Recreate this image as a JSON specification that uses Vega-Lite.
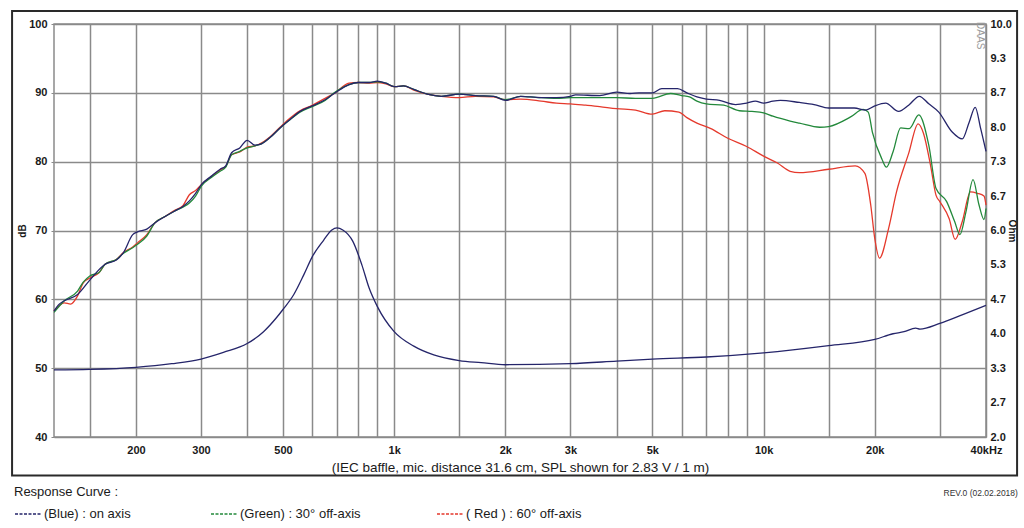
{
  "$schema": "https://vega.github.io/schema/vega-lite/v6.json",
  "width": 932,
  "height": 413,
  "autosize": {"type": "none"},
  "padding": {"left": 54, "top": 24, "right": 38, "bottom": 91},
  "background": "#FFFFFF",
  "datasets": {
    "spl": [
      {"c": "( Red ) : 60° off-axis", "f": 120, "db": 58.3},
      {"c": "( Red ) : 60° off-axis", "f": 128, "db": 59.5},
      {"c": "( Red ) : 60° off-axis", "f": 133, "db": 59.3},
      {"c": "( Red ) : 60° off-axis", "f": 139, "db": 60.5},
      {"c": "( Red ) : 60° off-axis", "f": 144, "db": 62.4},
      {"c": "( Red ) : 60° off-axis", "f": 150, "db": 63.1},
      {"c": "( Red ) : 60° off-axis", "f": 159, "db": 63.9},
      {"c": "( Red ) : 60° off-axis", "f": 165, "db": 65.1},
      {"c": "( Red ) : 60° off-axis", "f": 177, "db": 65.8},
      {"c": "( Red ) : 60° off-axis", "f": 185, "db": 66.8},
      {"c": "( Red ) : 60° off-axis", "f": 196, "db": 67.6},
      {"c": "( Red ) : 60° off-axis", "f": 202, "db": 68.2},
      {"c": "( Red ) : 60° off-axis", "f": 214, "db": 69.4},
      {"c": "( Red ) : 60° off-axis", "f": 225, "db": 71.1},
      {"c": "( Red ) : 60° off-axis", "f": 241, "db": 72.1},
      {"c": "( Red ) : 60° off-axis", "f": 254, "db": 72.9},
      {"c": "( Red ) : 60° off-axis", "f": 268, "db": 73.6},
      {"c": "( Red ) : 60° off-axis", "f": 279, "db": 75.2},
      {"c": "( Red ) : 60° off-axis", "f": 290, "db": 75.8},
      {"c": "( Red ) : 60° off-axis", "f": 301, "db": 76.7},
      {"c": "( Red ) : 60° off-axis", "f": 320, "db": 77.8},
      {"c": "( Red ) : 60° off-axis", "f": 338, "db": 78.8},
      {"c": "( Red ) : 60° off-axis", "f": 350, "db": 79.3},
      {"c": "( Red ) : 60° off-axis", "f": 363, "db": 81.0},
      {"c": "( Red ) : 60° off-axis", "f": 382, "db": 81.4},
      {"c": "( Red ) : 60° off-axis", "f": 400, "db": 82.1},
      {"c": "( Red ) : 60° off-axis", "f": 420, "db": 82.3},
      {"c": "( Red ) : 60° off-axis", "f": 433, "db": 82.6},
      {"c": "( Red ) : 60° off-axis", "f": 461, "db": 83.6},
      {"c": "( Red ) : 60° off-axis", "f": 491, "db": 85.0},
      {"c": "( Red ) : 60° off-axis", "f": 522, "db": 86.3},
      {"c": "( Red ) : 60° off-axis", "f": 556, "db": 87.4},
      {"c": "( Red ) : 60° off-axis", "f": 600, "db": 88.2},
      {"c": "( Red ) : 60° off-axis", "f": 650, "db": 89.2},
      {"c": "( Red ) : 60° off-axis", "f": 688, "db": 89.9},
      {"c": "( Red ) : 60° off-axis", "f": 755, "db": 91.4},
      {"c": "( Red ) : 60° off-axis", "f": 800, "db": 91.5},
      {"c": "( Red ) : 60° off-axis", "f": 856, "db": 91.4},
      {"c": "( Red ) : 60° off-axis", "f": 900, "db": 91.5},
      {"c": "( Red ) : 60° off-axis", "f": 950, "db": 91.3},
      {"c": "( Red ) : 60° off-axis", "f": 1000, "db": 90.9},
      {"c": "( Red ) : 60° off-axis", "f": 1060, "db": 91.0},
      {"c": "( Red ) : 60° off-axis", "f": 1130, "db": 90.4},
      {"c": "( Red ) : 60° off-axis", "f": 1230, "db": 89.8},
      {"c": "( Red ) : 60° off-axis", "f": 1340, "db": 89.5},
      {"c": "( Red ) : 60° off-axis", "f": 1500, "db": 89.3},
      {"c": "( Red ) : 60° off-axis", "f": 1660, "db": 89.5},
      {"c": "( Red ) : 60° off-axis", "f": 1860, "db": 89.4},
      {"c": "( Red ) : 60° off-axis", "f": 2000, "db": 89.0},
      {"c": "( Red ) : 60° off-axis", "f": 2200, "db": 89.1},
      {"c": "( Red ) : 60° off-axis", "f": 2500, "db": 88.8},
      {"c": "( Red ) : 60° off-axis", "f": 2750, "db": 88.5},
      {"c": "( Red ) : 60° off-axis", "f": 3000, "db": 88.4},
      {"c": "( Red ) : 60° off-axis", "f": 3300, "db": 88.2},
      {"c": "( Red ) : 60° off-axis", "f": 3600, "db": 88.0},
      {"c": "( Red ) : 60° off-axis", "f": 4000, "db": 87.7},
      {"c": "( Red ) : 60° off-axis", "f": 4500, "db": 87.5},
      {"c": "( Red ) : 60° off-axis", "f": 5000, "db": 86.9},
      {"c": "( Red ) : 60° off-axis", "f": 5400, "db": 87.4},
      {"c": "( Red ) : 60° off-axis", "f": 5900, "db": 87.2},
      {"c": "( Red ) : 60° off-axis", "f": 6200, "db": 86.4},
      {"c": "( Red ) : 60° off-axis", "f": 6600, "db": 85.6},
      {"c": "( Red ) : 60° off-axis", "f": 7200, "db": 84.8},
      {"c": "( Red ) : 60° off-axis", "f": 8000, "db": 83.4},
      {"c": "( Red ) : 60° off-axis", "f": 9000, "db": 82.2},
      {"c": "( Red ) : 60° off-axis", "f": 10000, "db": 80.8},
      {"c": "( Red ) : 60° off-axis", "f": 10900, "db": 79.8},
      {"c": "( Red ) : 60° off-axis", "f": 11800, "db": 78.6},
      {"c": "( Red ) : 60° off-axis", "f": 12500, "db": 78.4},
      {"c": "( Red ) : 60° off-axis", "f": 15000, "db": 78.9},
      {"c": "( Red ) : 60° off-axis", "f": 17700, "db": 79.4},
      {"c": "( Red ) : 60° off-axis", "f": 18800, "db": 78.3},
      {"c": "( Red ) : 60° off-axis", "f": 19500, "db": 73.7},
      {"c": "( Red ) : 60° off-axis", "f": 20000, "db": 68.8},
      {"c": "( Red ) : 60° off-axis", "f": 20600, "db": 66.0},
      {"c": "( Red ) : 60° off-axis", "f": 21800, "db": 70.3},
      {"c": "( Red ) : 60° off-axis", "f": 22900, "db": 75.6},
      {"c": "( Red ) : 60° off-axis", "f": 24700, "db": 81.2},
      {"c": "( Red ) : 60° off-axis", "f": 26200, "db": 85.5},
      {"c": "( Red ) : 60° off-axis", "f": 27100, "db": 84.1},
      {"c": "( Red ) : 60° off-axis", "f": 28300, "db": 79.5},
      {"c": "( Red ) : 60° off-axis", "f": 29300, "db": 75.1},
      {"c": "( Red ) : 60° off-axis", "f": 30000, "db": 74.2},
      {"c": "( Red ) : 60° off-axis", "f": 31800, "db": 71.7},
      {"c": "( Red ) : 60° off-axis", "f": 33000, "db": 68.7},
      {"c": "( Red ) : 60° off-axis", "f": 34500, "db": 71.3},
      {"c": "( Red ) : 60° off-axis", "f": 36300, "db": 75.6},
      {"c": "( Red ) : 60° off-axis", "f": 37900, "db": 75.4},
      {"c": "( Red ) : 60° off-axis", "f": 39500, "db": 75.0},
      {"c": "( Red ) : 60° off-axis", "f": 40000, "db": 73.7},

      {"c": "(Green) : 30° off-axis", "f": 120, "db": 58.1},
      {"c": "(Green) : 30° off-axis", "f": 128, "db": 59.8},
      {"c": "(Green) : 30° off-axis", "f": 139, "db": 61.2},
      {"c": "(Green) : 30° off-axis", "f": 144, "db": 62.5},
      {"c": "(Green) : 30° off-axis", "f": 150, "db": 63.4},
      {"c": "(Green) : 30° off-axis", "f": 159, "db": 63.9},
      {"c": "(Green) : 30° off-axis", "f": 165, "db": 65.1},
      {"c": "(Green) : 30° off-axis", "f": 177, "db": 65.8},
      {"c": "(Green) : 30° off-axis", "f": 185, "db": 66.7},
      {"c": "(Green) : 30° off-axis", "f": 196, "db": 67.5},
      {"c": "(Green) : 30° off-axis", "f": 202, "db": 68.0},
      {"c": "(Green) : 30° off-axis", "f": 214, "db": 69.2},
      {"c": "(Green) : 30° off-axis", "f": 225, "db": 71.1},
      {"c": "(Green) : 30° off-axis", "f": 241, "db": 72.1},
      {"c": "(Green) : 30° off-axis", "f": 254, "db": 72.8},
      {"c": "(Green) : 30° off-axis", "f": 268, "db": 73.4},
      {"c": "(Green) : 30° off-axis", "f": 279, "db": 74.0},
      {"c": "(Green) : 30° off-axis", "f": 290, "db": 75.0},
      {"c": "(Green) : 30° off-axis", "f": 301, "db": 76.5},
      {"c": "(Green) : 30° off-axis", "f": 320, "db": 77.7},
      {"c": "(Green) : 30° off-axis", "f": 338, "db": 78.6},
      {"c": "(Green) : 30° off-axis", "f": 350, "db": 79.2},
      {"c": "(Green) : 30° off-axis", "f": 363, "db": 81.0},
      {"c": "(Green) : 30° off-axis", "f": 382, "db": 81.5},
      {"c": "(Green) : 30° off-axis", "f": 400, "db": 82.0},
      {"c": "(Green) : 30° off-axis", "f": 420, "db": 82.3},
      {"c": "(Green) : 30° off-axis", "f": 433, "db": 82.5},
      {"c": "(Green) : 30° off-axis", "f": 461, "db": 83.5},
      {"c": "(Green) : 30° off-axis", "f": 491, "db": 84.9},
      {"c": "(Green) : 30° off-axis", "f": 522, "db": 86.1},
      {"c": "(Green) : 30° off-axis", "f": 556, "db": 87.2},
      {"c": "(Green) : 30° off-axis", "f": 600, "db": 88.0},
      {"c": "(Green) : 30° off-axis", "f": 650, "db": 88.9},
      {"c": "(Green) : 30° off-axis", "f": 688, "db": 90.0},
      {"c": "(Green) : 30° off-axis", "f": 755, "db": 91.2},
      {"c": "(Green) : 30° off-axis", "f": 800, "db": 91.5},
      {"c": "(Green) : 30° off-axis", "f": 856, "db": 91.5},
      {"c": "(Green) : 30° off-axis", "f": 900, "db": 91.6},
      {"c": "(Green) : 30° off-axis", "f": 950, "db": 91.4},
      {"c": "(Green) : 30° off-axis", "f": 1000, "db": 90.9},
      {"c": "(Green) : 30° off-axis", "f": 1060, "db": 91.0},
      {"c": "(Green) : 30° off-axis", "f": 1130, "db": 90.5},
      {"c": "(Green) : 30° off-axis", "f": 1230, "db": 89.8},
      {"c": "(Green) : 30° off-axis", "f": 1340, "db": 89.5},
      {"c": "(Green) : 30° off-axis", "f": 1500, "db": 89.8},
      {"c": "(Green) : 30° off-axis", "f": 1660, "db": 89.6},
      {"c": "(Green) : 30° off-axis", "f": 1860, "db": 89.5},
      {"c": "(Green) : 30° off-axis", "f": 2000, "db": 89.0},
      {"c": "(Green) : 30° off-axis", "f": 2200, "db": 89.5},
      {"c": "(Green) : 30° off-axis", "f": 2500, "db": 89.3},
      {"c": "(Green) : 30° off-axis", "f": 2750, "db": 89.2},
      {"c": "(Green) : 30° off-axis", "f": 3000, "db": 89.3},
      {"c": "(Green) : 30° off-axis", "f": 3600, "db": 89.3},
      {"c": "(Green) : 30° off-axis", "f": 4000, "db": 89.3},
      {"c": "(Green) : 30° off-axis", "f": 4500, "db": 89.2},
      {"c": "(Green) : 30° off-axis", "f": 5000, "db": 89.2},
      {"c": "(Green) : 30° off-axis", "f": 5600, "db": 89.9},
      {"c": "(Green) : 30° off-axis", "f": 6000, "db": 89.6},
      {"c": "(Green) : 30° off-axis", "f": 6300, "db": 89.4},
      {"c": "(Green) : 30° off-axis", "f": 6600, "db": 88.8},
      {"c": "(Green) : 30° off-axis", "f": 7000, "db": 88.4},
      {"c": "(Green) : 30° off-axis", "f": 7800, "db": 88.2},
      {"c": "(Green) : 30° off-axis", "f": 8600, "db": 87.4},
      {"c": "(Green) : 30° off-axis", "f": 9300, "db": 87.3},
      {"c": "(Green) : 30° off-axis", "f": 10000, "db": 87.1},
      {"c": "(Green) : 30° off-axis", "f": 10600, "db": 86.6},
      {"c": "(Green) : 30° off-axis", "f": 11800, "db": 85.9},
      {"c": "(Green) : 30° off-axis", "f": 12500, "db": 85.6},
      {"c": "(Green) : 30° off-axis", "f": 14200, "db": 85.0},
      {"c": "(Green) : 30° off-axis", "f": 15000, "db": 85.1},
      {"c": "(Green) : 30° off-axis", "f": 17200, "db": 86.5},
      {"c": "(Green) : 30° off-axis", "f": 18600, "db": 87.6},
      {"c": "(Green) : 30° off-axis", "f": 19200, "db": 87.2},
      {"c": "(Green) : 30° off-axis", "f": 19700, "db": 84.3},
      {"c": "(Green) : 30° off-axis", "f": 20900, "db": 80.4},
      {"c": "(Green) : 30° off-axis", "f": 21500, "db": 79.2},
      {"c": "(Green) : 30° off-axis", "f": 22400, "db": 81.4},
      {"c": "(Green) : 30° off-axis", "f": 23500, "db": 84.9},
      {"c": "(Green) : 30° off-axis", "f": 24800, "db": 84.8},
      {"c": "(Green) : 30° off-axis", "f": 26300, "db": 86.8},
      {"c": "(Green) : 30° off-axis", "f": 28000, "db": 82.4},
      {"c": "(Green) : 30° off-axis", "f": 29300, "db": 76.1},
      {"c": "(Green) : 30° off-axis", "f": 31300, "db": 74.2},
      {"c": "(Green) : 30° off-axis", "f": 32900, "db": 71.3},
      {"c": "(Green) : 30° off-axis", "f": 34000, "db": 69.4},
      {"c": "(Green) : 30° off-axis", "f": 35300, "db": 72.7},
      {"c": "(Green) : 30° off-axis", "f": 36900, "db": 77.4},
      {"c": "(Green) : 30° off-axis", "f": 38300, "db": 73.7},
      {"c": "(Green) : 30° off-axis", "f": 39500, "db": 71.6},
      {"c": "(Green) : 30° off-axis", "f": 40000, "db": 73.2},

      {"c": "(Blue)  : on axis", "f": 120, "db": 58.3},
      {"c": "(Blue)  : on axis", "f": 124, "db": 59.3},
      {"c": "(Blue)  : on axis", "f": 128, "db": 59.8},
      {"c": "(Blue)  : on axis", "f": 139, "db": 60.7},
      {"c": "(Blue)  : on axis", "f": 150, "db": 62.8},
      {"c": "(Blue)  : on axis", "f": 165, "db": 65.1},
      {"c": "(Blue)  : on axis", "f": 177, "db": 65.7},
      {"c": "(Blue)  : on axis", "f": 185, "db": 66.8},
      {"c": "(Blue)  : on axis", "f": 196, "db": 69.4},
      {"c": "(Blue)  : on axis", "f": 202, "db": 69.8},
      {"c": "(Blue)  : on axis", "f": 214, "db": 70.2},
      {"c": "(Blue)  : on axis", "f": 225, "db": 71.1},
      {"c": "(Blue)  : on axis", "f": 241, "db": 72.1},
      {"c": "(Blue)  : on axis", "f": 254, "db": 72.8},
      {"c": "(Blue)  : on axis", "f": 268, "db": 73.5},
      {"c": "(Blue)  : on axis", "f": 279, "db": 74.3},
      {"c": "(Blue)  : on axis", "f": 290, "db": 75.4},
      {"c": "(Blue)  : on axis", "f": 301, "db": 76.7},
      {"c": "(Blue)  : on axis", "f": 320, "db": 77.9},
      {"c": "(Blue)  : on axis", "f": 338, "db": 78.9},
      {"c": "(Blue)  : on axis", "f": 350, "db": 79.4},
      {"c": "(Blue)  : on axis", "f": 363, "db": 81.3},
      {"c": "(Blue)  : on axis", "f": 382, "db": 82.0},
      {"c": "(Blue)  : on axis", "f": 400, "db": 83.1},
      {"c": "(Blue)  : on axis", "f": 420, "db": 82.4},
      {"c": "(Blue)  : on axis", "f": 433, "db": 82.5},
      {"c": "(Blue)  : on axis", "f": 461, "db": 83.5},
      {"c": "(Blue)  : on axis", "f": 491, "db": 84.9},
      {"c": "(Blue)  : on axis", "f": 522, "db": 86.1},
      {"c": "(Blue)  : on axis", "f": 556, "db": 87.3},
      {"c": "(Blue)  : on axis", "f": 600, "db": 88.1},
      {"c": "(Blue)  : on axis", "f": 650, "db": 89.0},
      {"c": "(Blue)  : on axis", "f": 688, "db": 89.9},
      {"c": "(Blue)  : on axis", "f": 755, "db": 91.2},
      {"c": "(Blue)  : on axis", "f": 800, "db": 91.5},
      {"c": "(Blue)  : on axis", "f": 856, "db": 91.5},
      {"c": "(Blue)  : on axis", "f": 900, "db": 91.7},
      {"c": "(Blue)  : on axis", "f": 950, "db": 91.4},
      {"c": "(Blue)  : on axis", "f": 1000, "db": 90.9},
      {"c": "(Blue)  : on axis", "f": 1060, "db": 91.0},
      {"c": "(Blue)  : on axis", "f": 1130, "db": 90.5},
      {"c": "(Blue)  : on axis", "f": 1230, "db": 89.8},
      {"c": "(Blue)  : on axis", "f": 1340, "db": 89.5},
      {"c": "(Blue)  : on axis", "f": 1500, "db": 89.8},
      {"c": "(Blue)  : on axis", "f": 1660, "db": 89.6},
      {"c": "(Blue)  : on axis", "f": 1860, "db": 89.5},
      {"c": "(Blue)  : on axis", "f": 2000, "db": 88.9},
      {"c": "(Blue)  : on axis", "f": 2200, "db": 89.5},
      {"c": "(Blue)  : on axis", "f": 2500, "db": 89.3},
      {"c": "(Blue)  : on axis", "f": 2750, "db": 89.3},
      {"c": "(Blue)  : on axis", "f": 3000, "db": 89.5},
      {"c": "(Blue)  : on axis", "f": 3100, "db": 89.7},
      {"c": "(Blue)  : on axis", "f": 3600, "db": 89.6},
      {"c": "(Blue)  : on axis", "f": 4000, "db": 90.1},
      {"c": "(Blue)  : on axis", "f": 4350, "db": 89.9},
      {"c": "(Blue)  : on axis", "f": 4600, "db": 90.0},
      {"c": "(Blue)  : on axis", "f": 5000, "db": 90.0},
      {"c": "(Blue)  : on axis", "f": 5300, "db": 90.6},
      {"c": "(Blue)  : on axis", "f": 5850, "db": 90.6},
      {"c": "(Blue)  : on axis", "f": 6200, "db": 90.0},
      {"c": "(Blue)  : on axis", "f": 6600, "db": 89.4},
      {"c": "(Blue)  : on axis", "f": 7000, "db": 89.1},
      {"c": "(Blue)  : on axis", "f": 7600, "db": 88.9},
      {"c": "(Blue)  : on axis", "f": 8400, "db": 88.3},
      {"c": "(Blue)  : on axis", "f": 9000, "db": 88.5},
      {"c": "(Blue)  : on axis", "f": 9500, "db": 88.8},
      {"c": "(Blue)  : on axis", "f": 10000, "db": 88.5},
      {"c": "(Blue)  : on axis", "f": 10600, "db": 88.8},
      {"c": "(Blue)  : on axis", "f": 11100, "db": 88.9},
      {"c": "(Blue)  : on axis", "f": 12500, "db": 88.6},
      {"c": "(Blue)  : on axis", "f": 13700, "db": 88.3},
      {"c": "(Blue)  : on axis", "f": 15000, "db": 87.8},
      {"c": "(Blue)  : on axis", "f": 17600, "db": 87.8},
      {"c": "(Blue)  : on axis", "f": 18900, "db": 87.5},
      {"c": "(Blue)  : on axis", "f": 20000, "db": 88.1},
      {"c": "(Blue)  : on axis", "f": 21400, "db": 88.5},
      {"c": "(Blue)  : on axis", "f": 23200, "db": 87.3},
      {"c": "(Blue)  : on axis", "f": 24700, "db": 88.2},
      {"c": "(Blue)  : on axis", "f": 26400, "db": 89.5},
      {"c": "(Blue)  : on axis", "f": 28000, "db": 88.4},
      {"c": "(Blue)  : on axis", "f": 29800, "db": 87.2},
      {"c": "(Blue)  : on axis", "f": 32400, "db": 84.3},
      {"c": "(Blue)  : on axis", "f": 34500, "db": 83.3},
      {"c": "(Blue)  : on axis", "f": 36000, "db": 85.7},
      {"c": "(Blue)  : on axis", "f": 37400, "db": 87.9},
      {"c": "(Blue)  : on axis", "f": 38700, "db": 84.8},
      {"c": "(Blue)  : on axis", "f": 40000, "db": 81.5}
    ],
    "imp": [
      {"f": 120, "ohm": 3.30},
      {"f": 150, "ohm": 3.31},
      {"f": 200, "ohm": 3.35},
      {"f": 250, "ohm": 3.42},
      {"f": 300, "ohm": 3.51},
      {"f": 345, "ohm": 3.64},
      {"f": 400, "ohm": 3.81},
      {"f": 443, "ohm": 4.04},
      {"f": 480, "ohm": 4.31},
      {"f": 500, "ohm": 4.47},
      {"f": 535, "ohm": 4.76},
      {"f": 570, "ohm": 5.15},
      {"f": 600, "ohm": 5.49},
      {"f": 644, "ohm": 5.81},
      {"f": 678, "ohm": 6.01},
      {"f": 700, "ohm": 6.05},
      {"f": 726, "ohm": 6.01},
      {"f": 773, "ohm": 5.79},
      {"f": 818, "ohm": 5.33},
      {"f": 856, "ohm": 4.88},
      {"f": 900, "ohm": 4.53},
      {"f": 1000, "ohm": 4.04},
      {"f": 1130, "ohm": 3.76},
      {"f": 1280, "ohm": 3.59},
      {"f": 1500, "ohm": 3.48},
      {"f": 1720, "ohm": 3.44},
      {"f": 2000, "ohm": 3.40},
      {"f": 3000, "ohm": 3.42},
      {"f": 4000, "ohm": 3.47},
      {"f": 5000, "ohm": 3.51},
      {"f": 7000, "ohm": 3.55},
      {"f": 10000, "ohm": 3.63},
      {"f": 15000, "ohm": 3.77},
      {"f": 20000, "ohm": 3.89},
      {"f": 22400, "ohm": 4.00},
      {"f": 24000, "ohm": 4.04},
      {"f": 25800, "ohm": 4.11},
      {"f": 26500, "ohm": 4.09},
      {"f": 30000, "ohm": 4.20},
      {"f": 34600, "ohm": 4.37},
      {"f": 40000, "ohm": 4.55}
    ]
  },
  "layer": [
    {
      "layer": [
        {
          "data": {"name": "spl"},
          "mark": {"type": "line", "strokeWidth": 1.3, "interpolate": "monotone"},
          "encoding": {
            "x": {
              "field": "f",
              "type": "quantitative",
              "scale": {"type": "log", "domain": [120, 40000], "nice": false},
              "axis": {
                "title": "(IEC baffle, mic. distance 31.6 cm, SPL shown for 2.83 V / 1 m)",
                "values": [150, 200, 300, 400, 500, 600, 700, 800, 900, 1000, 1500, 2000, 3000, 4000, 5000, 6000, 7000, 8000, 9000, 10000, 15000, 20000, 30000, 40000],
                "labelExpr": "datum.value == 200 ? '200' : datum.value == 300 ? '300' : datum.value == 500 ? '500' : datum.value == 1000 ? '1k' : datum.value == 2000 ? '2k' : datum.value == 3000 ? '3k' : datum.value == 5000 ? '5k' : datum.value == 10000 ? '10k' : datum.value == 20000 ? '20k' : datum.value == 40000 ? '40kHz' : ''",
                "grid": true,
                "ticks": false,
                "domain": false,
                "labelFlush": false,
                "labelOverlap": false,
                "labelPadding": 7,
                "titlePadding": 5,
                "titleFontSize": 13.5,
                "titleFontWeight": "normal"
              }
            },
            "y": {
              "field": "db",
              "type": "quantitative",
              "scale": {"domain": [40, 100], "nice": false, "zero": false},
              "axis": {
                "title": "dB",
                "values": [40, 45, 50, 55, 60, 65, 70, 75, 80, 85, 90, 95, 100],
                "grid": true,
                "domain": false,
                "ticks": true,
                "tickSize": 3,
                "labelPadding": 4,
                "titlePadding": 1,
                "titleFontSize": 10,
                "titleFontWeight": "bold"
              }
            },
            "color": {
              "field": "c",
              "type": "nominal",
              "scale": {
                "domain": ["(Blue)  : on axis", "(Green) : 30° off-axis", "( Red ) : 60° off-axis"],
                "range": ["#25256a", "#23893b", "#e5392c"]
              },
              "legend": {
                "title": "Response Curve :",
                "orient": "none",
                "legendX": -40,
                "legendY": 462,
                "direction": "horizontal",
                "symbolType": "stroke",
                "symbolSize": 676,
                "symbolStrokeWidth": 1.5,
                "symbolDash": [3, 1.5],
                "labelOffset": 2,
                "columnPadding": 73,
                "labelLimit": 300,
                "titlePadding": 1,
                "encode": {
                  "symbols": {
                    "update": {
                      "stroke": {"signal": "datum.value === '(Green) : 30° off-axis' ? '#8cc63f' : datum.value === '( Red ) : 60° off-axis' ? '#e5392c' : '#3a3a8c'"}
                    }
                  }
                }
              }
            }
          }
        },
        {
          "data": {"values": [{}]},
          "mark": {"type": "rect", "filled": false, "stroke": "#2a2a2a", "strokeWidth": 2},
          "encoding": {
            "x": {"datum": 92.4, "type": "quantitative"},
            "x2": {"datum": 48550},
            "y": {"datum": 101.9, "type": "quantitative"},
            "y2": {"datum": 34.4}
          }
        },
        {
          "data": {"values": [{}]},
          "mark": {"type": "text", "text": "DAAS", "angle": 90, "fontSize": 10, "color": "#9a9a9a", "align": "center", "baseline": "middle"},
          "encoding": {
            "x": {"datum": 38500, "type": "quantitative"},
            "y": {"datum": 98.3, "type": "quantitative"}
          }
        },
        {
          "data": {"values": [{}]},
          "mark": {"type": "text", "text": "REV.0 (02.02.2018)", "fontSize": 8.5, "color": "#333333", "align": "right", "baseline": "middle"},
          "encoding": {
            "x": {"datum": 48800, "type": "quantitative"},
            "y": {"datum": 31.9, "type": "quantitative"}
          }
        }
      ]
    },
    {
      "data": {"name": "imp"},
      "mark": {"type": "line", "strokeWidth": 1.3, "interpolate": "monotone", "color": "#25256a"},
      "encoding": {
        "x": {"field": "f", "type": "quantitative"},
        "y": {
          "field": "ohm",
          "type": "quantitative",
          "scale": {"domain": [2, 10], "nice": false, "zero": false},
          "axis": {
            "orient": "right",
            "title": "Ohm",
            "titleAngle": 90,
            "values": [2, 2.6667, 3.3333, 4, 4.6667, 5.3333, 6, 6.6667, 7.3333, 8, 8.6667, 9.3333, 10],
            "format": ".1f",
            "grid": false,
            "domain": false,
            "ticks": false,
            "labelPadding": 4,
            "titlePadding": -5,
            "titleFontSize": 10,
            "titleFontWeight": "bold"
          }
        }
      }
    }
  ],
  "resolve": {"scale": {"y": "independent"}},
  "config": {
    "font": "'Liberation Sans Narrow', 'Liberation Sans', Arial, sans-serif",
    "view": {"stroke": "#8a8a8a", "strokeWidth": 1.5},
    "axis": {
      "labelFont": "'Liberation Sans Narrow', 'Liberation Sans', Arial, sans-serif",
      "labelFontSize": 11,
      "labelFontWeight": "bold",
      "labelColor": "#1a1a1a",
      "titleColor": "#1a1a1a",
      "titleFont": "'Liberation Sans Narrow', 'Liberation Sans', Arial, sans-serif",
      "gridColor": "#8a8a8a",
      "gridWidth": 1.5,
      "gridOpacity": 1,
      "tickColor": "#8a8a8a"
    },
    "legend": {
      "titleFont": "'Liberation Sans Narrow', 'Liberation Sans', Arial, sans-serif",
      "titleFontSize": 13,
      "titleFontWeight": "normal",
      "titleColor": "#1a1a1a",
      "labelFont": "'Liberation Sans Narrow', 'Liberation Sans', Arial, sans-serif",
      "labelFontSize": 13,
      "labelColor": "#1a1a1a"
    },
    "text": {"font": "'Liberation Sans Narrow', 'Liberation Sans', Arial, sans-serif"}
  }
}
